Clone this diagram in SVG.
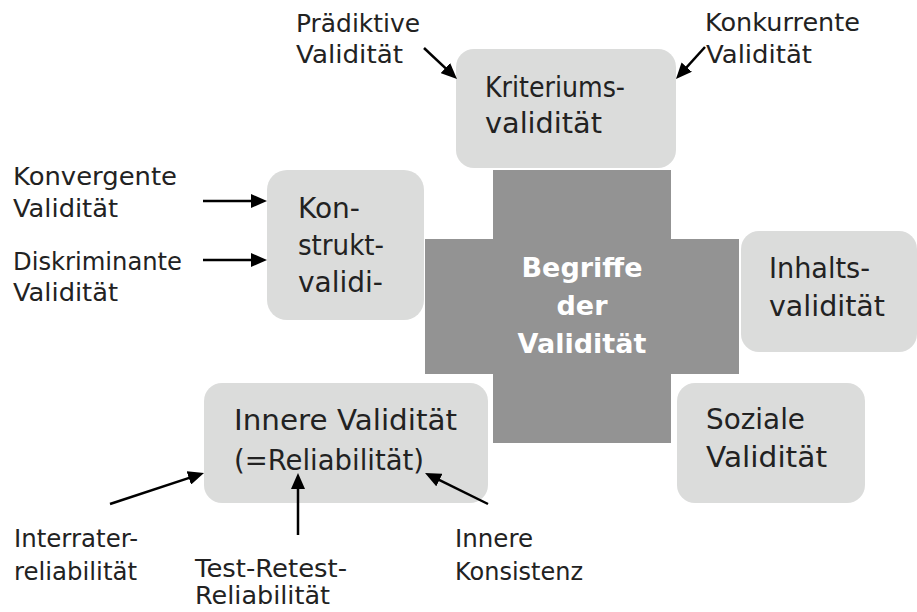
<svg xmlns="http://www.w3.org/2000/svg" width="917" height="612" viewBox="0 0 917 612">
<style>
.box{fill:#dbdcdb}
.cross{fill:#939393}
.t{font-family:"DejaVu Sans","Liberation Sans",sans-serif;font-size:24px;fill:#222}
.n{font-family:"DejaVu Sans","Liberation Sans",sans-serif;font-size:28px;fill:#222}
.c{font-family:"DejaVu Sans","Liberation Sans",sans-serif;font-size:27px;font-weight:bold;fill:#fff;text-anchor:middle}
.a{stroke:#000;stroke-width:2.5;fill:none;marker-end:url(#ah)}
</style>
<defs>
<marker id="ah" viewBox="0 0 16 14" refX="6" refY="7" markerWidth="16" markerHeight="14" markerUnits="userSpaceOnUse" orient="auto">
<path d="M0,0 L16,7 L0,14 z" fill="#000"/>
</marker>
</defs>
<rect width="917" height="612" fill="#fff"/>
<g id="center">
<path class="cross" d="M493,170 H671 V239 H739 V374 H671 V443 H493 V374 H425 V239 H493 Z"/>
<text class="c"><tspan x="582" y="277">Begriffe</tspan><tspan x="582" y="315">der</tspan><tspan x="582" y="353">Validität</tspan></text>
</g>
<g id="kriterium">
<rect class="box" x="456" y="49" width="220" height="119" rx="18"/>
<text class="n" x="485" y="97" textLength="140" lengthAdjust="spacingAndGlyphs">Kriteriums-</text>
<text class="n" x="485" y="133" textLength="117" lengthAdjust="spacingAndGlyphs">validität</text>
</g>
<g id="konstrukt">
<rect class="box" x="267" y="170" width="157" height="150" rx="20"/>
<text class="n" x="298" y="218">Kon-</text>
<text class="n" x="298" y="255" textLength="86" lengthAdjust="spacingAndGlyphs">strukt-</text>
<text class="n" x="298" y="292">validi-</text>
</g>
<g id="inhalt">
<rect class="box" x="741" y="231" width="176" height="121" rx="18"/>
<text class="n" x="769" y="278" textLength="101" lengthAdjust="spacingAndGlyphs">Inhalts-</text>
<text class="n" x="769" y="316" textLength="116" lengthAdjust="spacingAndGlyphs">validität</text>
</g>
<g id="sozial">
<rect class="box" x="677" y="383" width="188" height="120" rx="18"/>
<text class="n" x="706" y="429" textLength="99" lengthAdjust="spacingAndGlyphs">Soziale</text>
<text class="n" x="706" y="467" textLength="121" lengthAdjust="spacingAndGlyphs">Validität</text>
</g>
<g id="innere">
<rect class="box" x="204" y="383" width="284" height="120" rx="18"/>
<text class="n" x="234" y="430" textLength="223" lengthAdjust="spacingAndGlyphs">Innere Validität</text>
<text class="n" x="234" y="470" textLength="190" lengthAdjust="spacingAndGlyphs">(=Reliabilität)</text>
</g>
<g id="labels">
<text class="t" x="296" y="32" textLength="124" lengthAdjust="spacingAndGlyphs">Prädiktive</text>
<text class="t" x="296" y="63" textLength="107" lengthAdjust="spacingAndGlyphs">Validität</text>
<text class="t" x="705" y="31" textLength="155" lengthAdjust="spacingAndGlyphs">Konkurrente</text>
<text class="t" x="706" y="63" textLength="106" lengthAdjust="spacingAndGlyphs">Validität</text>
<text class="t" x="13" y="185" textLength="164" lengthAdjust="spacingAndGlyphs">Konvergente</text>
<text class="t" x="13" y="217" textLength="105" lengthAdjust="spacingAndGlyphs">Validität</text>
<text class="t" x="13" y="270" textLength="169" lengthAdjust="spacingAndGlyphs">Diskriminante</text>
<text class="t" x="13" y="301" textLength="105" lengthAdjust="spacingAndGlyphs">Validität</text>
<text class="t" x="14" y="547" textLength="124" lengthAdjust="spacingAndGlyphs">Interrater-</text>
<text class="t" x="14" y="580" textLength="123" lengthAdjust="spacingAndGlyphs">reliabilität</text>
<text class="t" x="195" y="577" textLength="152" lengthAdjust="spacingAndGlyphs">Test-Retest-</text>
<text class="t" x="195" y="604" textLength="135" lengthAdjust="spacingAndGlyphs">Reliabilität</text>
<text class="t" x="455" y="547" textLength="78" lengthAdjust="spacingAndGlyphs">Innere</text>
<text class="t" x="455" y="580" textLength="128" lengthAdjust="spacingAndGlyphs">Konsistenz</text>
</g>
<g id="connectors">
<line class="a" x1="424" y1="48" x2="449.7" y2="72.2"/>
<line class="a" x1="705" y1="47" x2="682.7" y2="71.6"/>
<line class="a" x1="203" y1="201" x2="257" y2="201"/>
<line class="a" x1="203" y1="260" x2="257" y2="260"/>
<line class="a" x1="110" y1="504" x2="194.5" y2="476.1"/>
<line class="a" x1="298" y1="535" x2="298" y2="483"/>
<line class="a" x1="488" y1="504" x2="434" y2="477.4"/>
</g>
</svg>
